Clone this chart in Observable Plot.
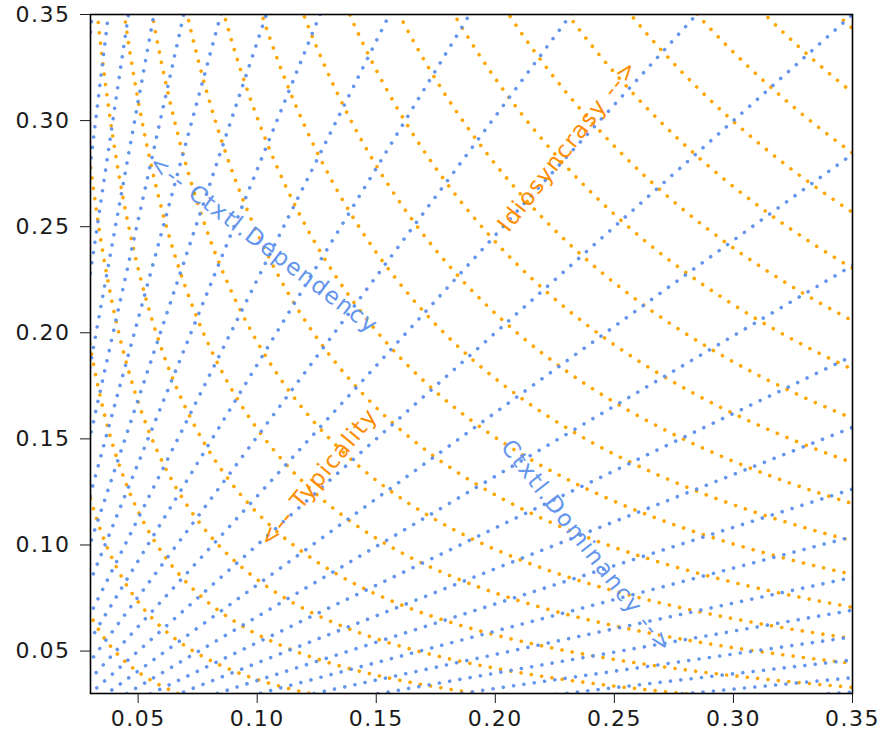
<!DOCTYPE html>
<html>
<head>
<meta charset="utf-8">
<script src="https://cdn.jsdelivr.net/npm/d3@7"></script>
<script src="https://cdn.jsdelivr.net/npm/@observablehq/plot@0.6"></script>
<style>
  html, body { margin: 0; padding: 0; background: white; }
  #chart { width: 884px; height: 738px; }
</style>
</head>
<body>
<div id="chart"></div>
<script>
// Tick values
const xTicks = [0.05, 0.10, 0.15, 0.20, 0.25, 0.30, 0.35];
const yTicks = [0.05, 0.10, 0.15, 0.20, 0.25, 0.30, 0.35];

// Blue dotted rays from the origin: slopes y/x
const raySlopes = [11.4, 9.33, 7.62, 6.18, 5.06, 4.13, 3.37, 2.77, 2.25, 1.85, 1.51, 1.23, 1.0,
                   0.812, 0.662, 0.540, 0.444, 0.361, 0.297, 0.242, 0.198, 0.162, 0.131, 0.107, 0.0877];

// Orange dotted level curves x*y = g^2 : g (where the curve meets the diagonal)
const curveLevels = [0.0448, 0.0605, 0.0761, 0.0915, 0.1073, 0.1244, 0.1399, 0.1572, 0.1736, 0.1889,
                     0.2045, 0.2204, 0.2364, 0.2529, 0.2683, 0.2840, 0.2998, 0.3157, 0.3311, 0.3467];

// Annotation texts
const labelTexts = ["<-- Ctxtl.Dependency", "Ctxtl.Dominancy -->", "Idiosyncrasy -->", "<-- Typicality"];

const BLUE = "cornflowerblue";
const ORANGE = "orange";

const rays = raySlopes.map(m => ({x1: 0, y1: 0, x2: 1, y2: m}));

const curvePts = [];
curveLevels.forEach((g, i) => {
  const c = g * g;
  const xmin = c / 0.4, xmax = 0.4;
  const n = 300;
  for (let k = 0; k <= n; k++) {
    const x = xmin * Math.pow(xmax / xmin, k / n);
    curvePts.push({id: i, x, y: c / x});
  }
});

const dotted = {strokeWidth: 3.6, strokeDasharray: "0.01,10.4", strokeLinecap: "round"};
const txt = {fontSize: 23, textAnchor: "middle", fontFamily: "DejaVu Sans"};

const chart = Plot.plot({
  width: 884,
  height: 738,
  marginLeft: 90,
  marginRight: 32,
  marginTop: 14,
  marginBottom: 45,
  style: {fontFamily: "DejaVu Sans", fontSize: "22px", background: "white", color: "#1a1a1a", overflow: "visible"},
  x: {domain: [0.03, 0.35], label: null},
  y: {domain: [0.03, 0.35], label: null},
  marks: [
    Plot.line(curvePts, {x: "x", y: "y", z: "id", stroke: ORANGE, clip: true, ...dotted}),
    Plot.link(rays, {x1: "x1", y1: "y1", x2: "x2", y2: "y2", stroke: BLUE, clip: true, ...dotted}),
    Plot.text([labelTexts[0]], {x: 0.1027, y: 0.2416, text: d => d, rotate: 37, fill: BLUE, ...txt}),
    Plot.text([labelTexts[1]], {x: 0.2384, y: 0.0993, text: d => d, rotate: 52, fill: BLUE, ...txt}),
    Plot.text([labelTexts[2]], {x: 0.2304, y: 0.2882, text: d => d, rotate: -52, fill: "darkorange", ...txt}),
    Plot.text([labelTexts[3]], {x: 0.1258, y: 0.1318, text: d => d, rotate: -50.5, fill: "darkorange", ...txt}),
    Plot.frame({stroke: "black", strokeWidth: 1.6}),
    Plot.axisX({ticks: xTicks, tickFormat: d3.format(".2f"), tickSize: 10, tickPadding: 7, fontSize: 22, label: null}),
    Plot.axisY({ticks: yTicks, tickFormat: d3.format(".2f"), tickSize: 10, tickPadding: 10, fontSize: 22, label: null})
  ]
});
d3.select(chart).selectAll('g[aria-label="text"] text').style("letter-spacing", "1.5px");
d3.select(chart).selectAll('g[aria-label="x-axis tick label"] text, g[aria-label="y-axis tick label"] text').style("letter-spacing", "1.5px");
document.getElementById("chart").appendChild(chart);
</script>
</body>
</html>
